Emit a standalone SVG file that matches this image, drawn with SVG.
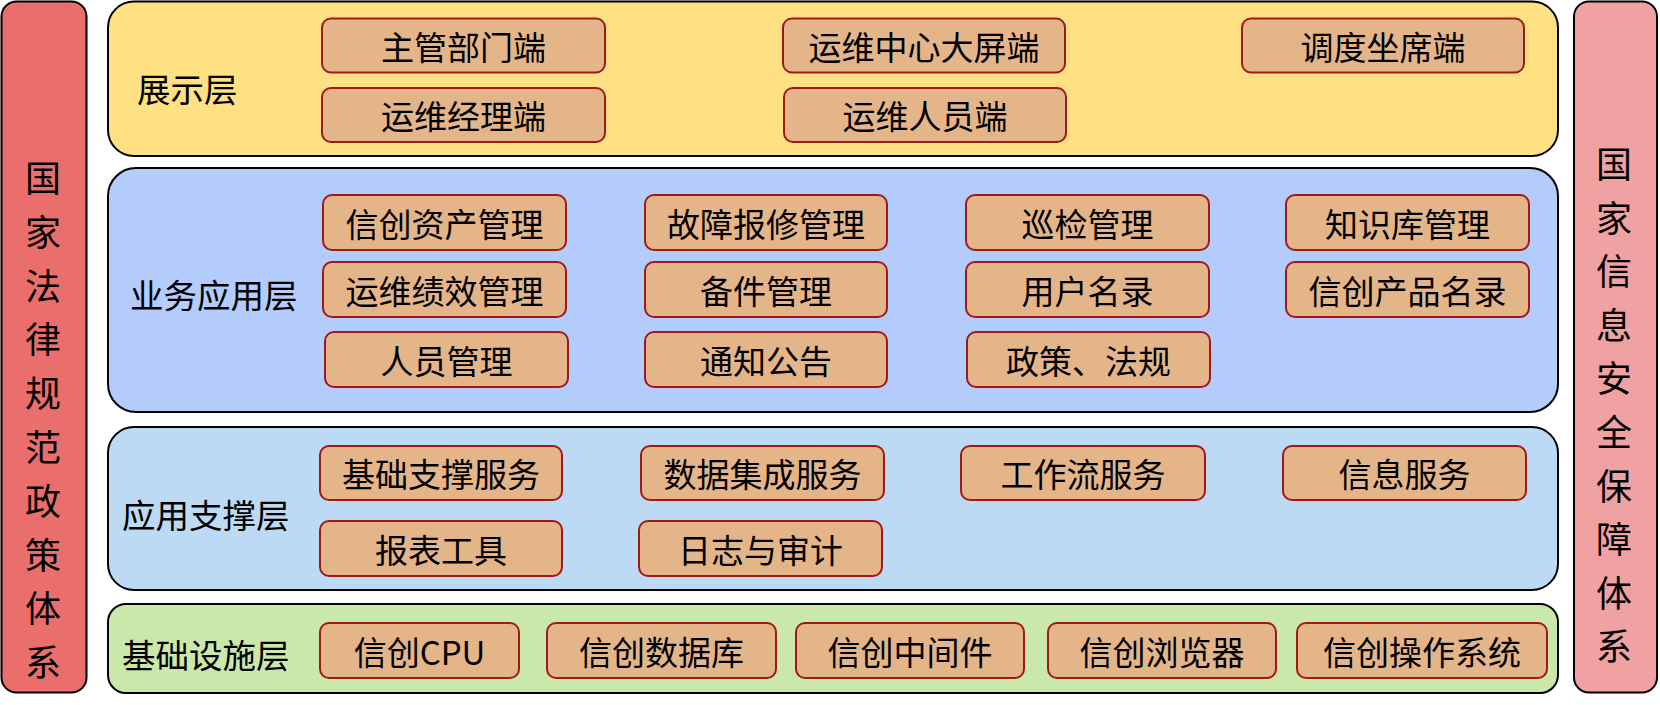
<svg xmlns="http://www.w3.org/2000/svg" width="1660" height="705" viewBox="0 0 1660 705">
<style>
text{font-family:"Noto Sans CJK SC","Noto Sans",sans-serif;fill:#000;dominant-baseline:central}
.n rect{fill:#E5B58A;stroke:#A01818;stroke-width:2}
.n text{font-size:33px;text-anchor:middle}
.lay{stroke:#000;stroke-width:2}
.lbl{font-size:33.5px}
.pil{font-size:36px;text-anchor:middle}
</style>
<rect width="1660" height="705" fill="#fff"/>
<g id="pillar-left">
<rect x="1.5" y="1.5" width="85" height="691" rx="15" fill="#EA6F6C" stroke="#000" stroke-width="2"/>
<text class="pil" x="43" y="176">国</text><text class="pil" x="43" y="229.8">家</text><text class="pil" x="43" y="283.6">法</text><text class="pil" x="43" y="337.4">律</text><text class="pil" x="43" y="391.2">规</text><text class="pil" x="43" y="445">范</text><text class="pil" x="43" y="498.8">政</text><text class="pil" x="43" y="552.6">策</text><text class="pil" x="43" y="606.4">体</text><text class="pil" x="43" y="660.2">系</text>
</g>
<g id="pillar-right">
<rect x="1574" y="1.5" width="83" height="691" rx="15" fill="#F0A1A1" stroke="#000" stroke-width="2"/>
<text class="pil" x="1614" y="162">国</text><text class="pil" x="1614" y="215.6">家</text><text class="pil" x="1614" y="269.2">信</text><text class="pil" x="1614" y="322.8">息</text><text class="pil" x="1614" y="376.4">安</text><text class="pil" x="1614" y="430">全</text><text class="pil" x="1614" y="483.6">保</text><text class="pil" x="1614" y="537.2">障</text><text class="pil" x="1614" y="590.8">体</text><text class="pil" x="1614" y="644.4">系</text>
</g>
<g id="layer-display">
<rect class="lay" x="108" y="1.5" width="1450" height="154.5" rx="26" fill="#FFE083"/>
<text class="lbl" x="137" y="87">展示层</text>
</g>
<g id="layer-business">
<rect class="lay" x="108" y="168" width="1450" height="244" rx="28" fill="#B3CCFC"/>
<text class="lbl" x="130" y="293">业务应用层</text>
</g>
<g id="layer-support">
<rect class="lay" x="108" y="427" width="1450" height="163" rx="26" fill="#BCDAF3"/>
<text class="lbl" x="122" y="513">应用支撑层</text>
</g>
<g id="layer-infra">
<rect class="lay" x="108" y="604" width="1450" height="89" rx="18" fill="#CAE8AA"/>
<text class="lbl" x="122" y="653">基础设施层</text>
</g>
<g id="connectors"></g>
<g id="n-zgbmd" class="n"><rect x="322" y="18.5" width="283" height="54" rx="9"/><text x="463.5" y="45.5">主管部门端</text></g>
<g id="n-ywjld" class="n"><rect x="322" y="88" width="283" height="54" rx="9"/><text x="463.5" y="115">运维经理端</text></g>
<g id="n-ywzxdpd" class="n"><rect x="783" y="18.5" width="282" height="54" rx="9"/><text x="924" y="45.5">运维中心大屏端</text></g>
<g id="n-ywryd" class="n"><rect x="784" y="88" width="282" height="54" rx="9"/><text x="925" y="115">运维人员端</text></g>
<g id="n-ddzxd" class="n"><rect x="1242" y="18.5" width="282" height="54" rx="9"/><text x="1383" y="45.5">调度坐席端</text></g>

<g id="n-xczcgl" class="n"><rect x="323" y="195" width="243" height="55" rx="9"/><text x="444.5" y="222.5">信创资产管理</text></g>
<g id="n-gzbxgl" class="n"><rect x="645" y="195" width="242" height="55" rx="9"/><text x="766" y="222.5">故障报修管理</text></g>
<g id="n-xjgl" class="n"><rect x="966" y="195" width="243" height="55" rx="9"/><text x="1087.5" y="222.5">巡检管理</text></g>
<g id="n-zskgl" class="n"><rect x="1286" y="195" width="243" height="55" rx="9"/><text x="1407.5" y="222.5">知识库管理</text></g>
<g id="n-ywjxgl" class="n"><rect x="323" y="262" width="243" height="55" rx="9"/><text x="444.5" y="289.5">运维绩效管理</text></g>
<g id="n-bjgl" class="n"><rect x="645" y="262" width="242" height="55" rx="9"/><text x="766" y="289.5">备件管理</text></g>
<g id="n-yhml" class="n"><rect x="966" y="262" width="243" height="55" rx="9"/><text x="1087.5" y="289.5">用户名录</text></g>
<g id="n-xccpml" class="n"><rect x="1286" y="262" width="243" height="55" rx="9"/><text x="1407.5" y="289.5">信创产品名录</text></g>
<g id="n-rygl" class="n"><rect x="325" y="332" width="243" height="55" rx="9"/><text x="446.5" y="359.5">人员管理</text></g>
<g id="n-tzgg" class="n"><rect x="645" y="332" width="242" height="55" rx="9"/><text x="766" y="359.5">通知公告</text></g>
<g id="n-zcfg" class="n"><rect x="967" y="332" width="243" height="55" rx="9"/><text x="1088.5" y="359.5">政策、法规</text></g>

<g id="n-jczcfw" class="n"><rect x="320" y="446" width="242" height="54" rx="9"/><text x="441" y="473">基础支撑服务</text></g>
<g id="n-sjjcfw" class="n"><rect x="641" y="446" width="243" height="54" rx="9"/><text x="762.5" y="473">数据集成服务</text></g>
<g id="n-gzlfw" class="n"><rect x="961" y="446" width="244" height="54" rx="9"/><text x="1083" y="473">工作流服务</text></g>
<g id="n-xxfw" class="n"><rect x="1283" y="446" width="243" height="54" rx="9"/><text x="1404.5" y="473">信息服务</text></g>
<g id="n-bbgj" class="n"><rect x="320" y="521" width="242" height="55" rx="9"/><text x="441" y="548.5">报表工具</text></g>
<g id="n-rzysj" class="n"><rect x="639" y="521" width="243" height="55" rx="9"/><text x="760.5" y="548.5">日志与审计</text></g>

<g id="n-xccpu" class="n"><rect x="320" y="623" width="199" height="55" rx="9"/><text x="419.5" y="650.5">信创CPU</text></g>
<g id="n-xcsjk" class="n"><rect x="547" y="623" width="229" height="55" rx="9"/><text x="661.5" y="650.5">信创数据库</text></g>
<g id="n-xczjj" class="n"><rect x="796" y="623" width="228" height="55" rx="9"/><text x="910" y="650.5">信创中间件</text></g>
<g id="n-xclll" class="n"><rect x="1048" y="623" width="228" height="55" rx="9"/><text x="1162" y="650.5">信创浏览器</text></g>
<g id="n-xczzxt" class="n"><rect x="1297" y="623" width="250" height="55" rx="9"/><text x="1422" y="650.5">信创操作系统</text></g>
</svg>
